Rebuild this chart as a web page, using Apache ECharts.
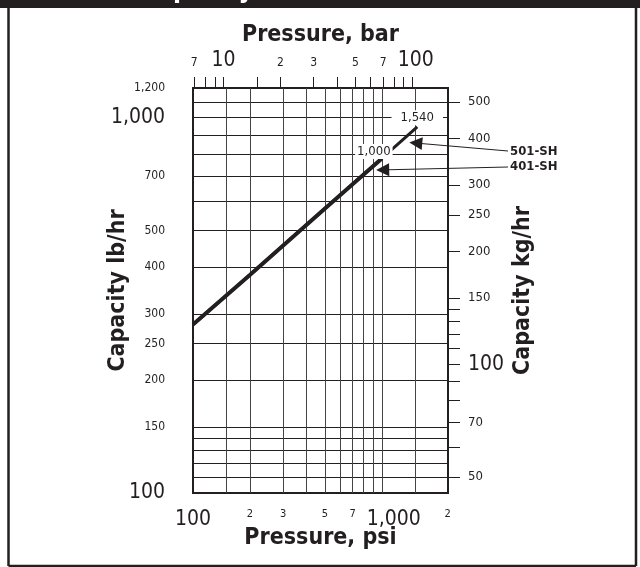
<!DOCTYPE html>
<html>
<head>
<meta charset="utf-8">
<script src="https://cdn.jsdelivr.net/npm/echarts@6/dist/echarts.min.js"></script>
<style>
html, body { margin: 0; padding: 0; background: #fff; }
#chart { width: 640px; height: 567px; }
</style>
</head>
<body>
<div id="chart"></div>
<script>
const PSI_PER_BAR = 14.5038;
const LB_PER_KG = 2.20462;

const psiRange = [100, 2240];
const lbRange = [100, 1200];

// capacity curves
const psi401 = [100, 200, 500, 1000];
const lb401 = [281, 381, 573, 779];
const psi501 = [100, 200, 500, 1000, 1540];
const lb501 = [281, 381, 573, 779, 946];

// where the arrows point at the curves
const arrow501 = [1512, 856];
const arrow401 = [1010, 726];

// grid lines
const psiGrid = [150, 200, 300, 400, 500, 600, 700, 800, 900, 1000, 1500];
const lbGrid = [110, 120, 130, 140, 150, 200, 250, 300, 400, 500, 600, 700, 800, 900, 1000, 1100];

// tick labels
const psiLabelValues = [100, 200, 300, 500, 700, 1000, 2000];
const psiLabelText = ['100', '2', '3', '5', '7', '1,000', '2'];
const psiBig = [100, 1000];
const barTicks = [7, 8, 9, 10, 15, 20, 30, 40, 50, 60, 70, 80, 90, 100];
const barLabelValues = [7, 10, 20, 30, 50, 70, 100];
const barLabelText = ['7', '10', '2', '3', '5', '7', '100'];
const barBig = [10, 100];
const lbLabelValues = [100, 150, 200, 250, 300, 400, 500, 700, 1000, 1200];
const lbLabelText = ['100', '150', '200', '250', '300', '400', '500', '700', '1,000', '1,200'];
const lbBig = [100, 1000];
const kgTicks = [50, 60, 70, 80, 90, 100, 110, 120, 130, 140, 150, 200, 250, 300, 400, 500];
const kgLabelValues = [50, 70, 100, 150, 200, 250, 300, 400, 500];
const kgLabelText = ['50', '70', '100', '150', '200', '250', '300', '400', '500'];
const kgBig = [100];

const FONT = '"Liberation Sans Narrow", "DejaVu Sans Condensed", "Liberation Sans", sans-serif';
const INK = '#231f20';

// shifted: label values whose text sits a little right of the tick
function labelFormatter(values, texts, big, shifted) {
    return function (v) {
        const i = values.findIndex(x => Math.abs(x - v) / x < 1e-4);
        if (i < 0) return '';
        let key = big.indexOf(values[i]) >= 0 ? 'big' : 'small';
        if (shifted && shifted.indexOf(values[i]) >= 0) key += 'R';
        return '{' + key + '|' + texts[i] + '}';
    };
}

function labelRich(smallSize, bigLineHeight, shiftBig, shiftSmall) {
    const big = { fontFamily: FONT, fontSize: 21, lineHeight: bigLineHeight, color: INK };
    const small = { fontFamily: FONT, fontSize: smallSize, color: INK };
    return {
        big: big,
        small: small,
        bigR: Object.assign({}, big, { padding: [0, 0, 0, shiftBig || 0] }),
        smallR: Object.assign({}, small, { padding: [0, 0, 0, shiftSmall || 0] })
    };
}

const nameStyle = { fontFamily: FONT, fontWeight: 'bold', fontSize: 23, color: INK };
const tagStyle = { fontFamily: FONT, fontSize: 13, color: INK };

const chart = echarts.init(document.getElementById('chart'), null, { renderer: 'canvas' });

const option = {
    animation: false,
    grid: {
        left: 193, top: 88, width: 255, height: 405,
        show: true, borderColor: INK, borderWidth: 2, backgroundColor: 'transparent'
    },
    xAxis: [
        {
            type: 'log',
            position: 'bottom',
            min: psiRange[0],
            max: psiRange[1],
            axisLine: { show: false },
            axisTick: { show: false, customValues: psiGrid },
            splitLine: { show: true, lineStyle: { color: '#444', width: 1 } },
            axisLabel: {
                customValues: psiLabelValues,
                margin: 16,
                showMinLabel: true,
                showMaxLabel: true,
                hideOverlap: false,
                formatter: labelFormatter(psiLabelValues, psiLabelText, psiBig, [1000, 2000]),
                rich: labelRich(11, 21, 24, 18)
            },
            name: 'Pressure, psi',
            nameLocation: 'middle',
            nameMoveOverlap: false,
            nameGap: 34,
            nameTextStyle: nameStyle
        },
        {
            type: 'log',
            position: 'top',
            min: psiRange[0] / PSI_PER_BAR,
            max: psiRange[1] / PSI_PER_BAR,
            axisLine: { show: false },
            axisTick: { show: true, inside: false, length: 11, customValues: barTicks, lineStyle: { color: INK, width: 1 } },
            splitLine: { show: false },
            axisLabel: {
                customValues: barLabelValues,
                margin: 19,
                showMinLabel: true,
                showMaxLabel: true,
                hideOverlap: false,
                formatter: labelFormatter(barLabelValues, barLabelText, barBig, [100]),
                rich: labelRich(12, 17, 7, 0)
            },
            name: 'Pressure, bar',
            nameLocation: 'middle',
            nameMoveOverlap: false,
            nameGap: 41,
            nameTextStyle: nameStyle
        }
    ],
    yAxis: [
        {
            type: 'log',
            position: 'left',
            min: lbRange[0],
            max: lbRange[1],
            axisLine: { show: false },
            axisTick: { show: false, customValues: lbGrid },
            splitLine: { show: true, lineStyle: { color: INK, width: 1 } },
            axisLabel: {
                customValues: lbLabelValues,
                margin: 28,
                showMinLabel: true,
                showMaxLabel: true,
                formatter: labelFormatter(lbLabelValues, lbLabelText, lbBig),
                rich: labelRich(12, 21)
            },
            name: 'Capacity lb/hr',
            nameLocation: 'middle',
            nameRotate: 90,
            nameMoveOverlap: false,
            nameGap: 63,
            nameTextStyle: nameStyle
        },
        {
            type: 'log',
            position: 'right',
            min: lbRange[0] / LB_PER_KG,
            max: lbRange[1] / LB_PER_KG,
            axisLine: { show: false },
            axisTick: { show: true, inside: false, length: 12, customValues: kgTicks, lineStyle: { color: INK, width: 1 } },
            splitLine: { show: false },
            axisLabel: {
                customValues: kgLabelValues,
                margin: 20,
                showMinLabel: true,
                showMaxLabel: true,
                formatter: labelFormatter(kgLabelValues, kgLabelText, kgBig),
                rich: labelRich(13, 21)
            },
            name: 'Capacity kg/hr',
            nameLocation: 'middle',
            nameRotate: 90,
            nameMoveOverlap: false,
            nameGap: 64,
            nameTextStyle: nameStyle
        }
    ],
    series: [
        {
            type: 'line',
            name: '501-SH',
            xAxisIndex: 0,
            yAxisIndex: 0,
            data: psi501.map((p, i) => [p, lb501[i]]),
            symbol: 'none',
            lineStyle: { color: INK, width: 3 },
            markPoint: {
                symbol: 'rect',
                symbolSize: 1,
                itemStyle: { color: 'rgba(0,0,0,0)' },
                label: Object.assign({
                    show: true, formatter: '1,540', offset: [0, -9],
                    backgroundColor: '#fff', padding: [1, 9]
                }, tagStyle),
                data: [{ coord: [psi501[psi501.length - 1], lb501[lb501.length - 1]] }]
            },
            markLine: {
                silent: true,
                lineStyle: { color: INK, width: 1, type: 'solid' },
                data: [[
                    { coord: arrow501, symbol: 'triangle', symbolSize: [13, 13] },
                    {
                        x: 508, y: 151, symbol: 'none',
                        label: Object.assign({ show: true, position: 'end', distance: 2, formatter: '501-SH' }, tagStyle, { fontWeight: 'bold' })
                    }
                ]]
            }
        },
        {
            type: 'line',
            name: '401-SH',
            xAxisIndex: 0,
            yAxisIndex: 0,
            data: psi401.map((p, i) => [p, lb401[i]]),
            symbol: 'none',
            lineStyle: { color: INK, width: 4 },
            markPoint: {
                symbol: 'rect',
                symbolSize: 1,
                itemStyle: { color: 'rgba(0,0,0,0)' },
                label: Object.assign({
                    show: true, formatter: '1,000', offset: [-8, -7],
                    backgroundColor: '#fff', padding: [1, 2]
                }, tagStyle),
                data: [{ coord: [psi401[psi401.length - 1], lb401[lb401.length - 1]] }]
            },
            markLine: {
                silent: true,
                lineStyle: { color: INK, width: 1, type: 'solid' },
                data: [[
                    { coord: arrow401, symbol: 'triangle', symbolSize: [13, 13] },
                    {
                        x: 508, y: 167, symbol: 'none',
                        label: Object.assign({ show: true, position: 'end', distance: 2, formatter: '401-SH' }, tagStyle, { fontWeight: 'bold' })
                    }
                ]]
            }
        }
    ],
    graphic: [
        { type: 'rect', shape: { x: 0, y: 0, width: 640, height: 8 }, style: { fill: INK } },
        { type: 'text', left: 140, top: -23, style: { text: 'Capacity', fill: '#fff', font: 'bold 26px ' + FONT } },
        { type: 'line', shape: { x1: 8.5, y1: 8, x2: 8.5, y2: 566 }, style: { stroke: INK, lineWidth: 2.5 } },
        { type: 'line', shape: { x1: 636, y1: 8, x2: 636, y2: 566 }, style: { stroke: INK, lineWidth: 2.5 } },
        { type: 'line', shape: { x1: 8.5, y1: 566, x2: 636, y2: 566 }, style: { stroke: INK, lineWidth: 2.5 } }
    ]
};

chart.setOption(option);
</script>
</body>
</html>
